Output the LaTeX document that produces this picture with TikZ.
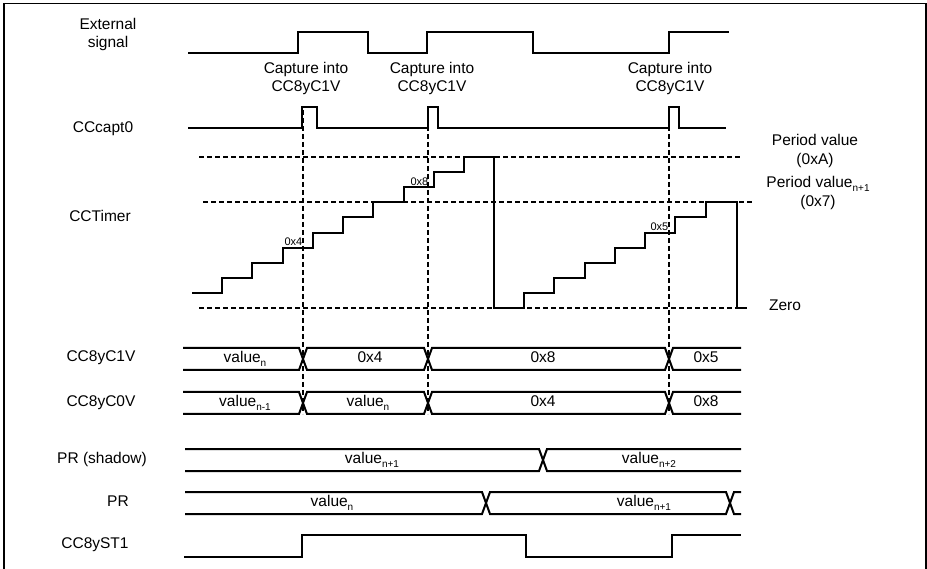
\documentclass[tikz,border=0pt]{standalone}
\usepackage{fontspec}
\setmainfont{Liberation Sans}
\newcommand{\lowsub}[1]{\raisebox{-0.4ex}{\fontsize{10}{10}\selectfont #1}}
\begin{document}
\begin{tikzpicture}[x=1pt,y=-1pt,
  sig/.style={line width=2pt, line join=miter},
  dsh/.style={line width=1.5pt, dash pattern=on 5pt off 3pt},
  lbl/.style={font=\fontsize{15.5}{18.5}\selectfont, align=center, inner sep=0pt, text height=11pt, text depth=3.3pt},
  tinylbl/.style={font=\fontsize{11}{12}\selectfont, inner sep=0.5pt, anchor=south east},
]
\useasboundingbox (0,0) rectangle (927,569);
% frame
\draw[line width=1.5pt] (4,572) -- (4,3.5) -- (926,3.5) -- (926,572);

% left labels
\node[lbl] (ext) at (108,44) {External\\signal};
\node[lbl] (capt) at (103,129) {CCcapt0};
\node[lbl] (timer) at (100,218) {CCTimer};
\node[lbl] (c1v) at (101,358) {CC8yC1V};
\node[lbl] (c0v) at (101,403) {CC8yC0V};
\node[lbl] (prs) at (102,460) {PR (shadow)};
\node[lbl] (pr) at (118,503) {PR};
\node[lbl] (st1) at (95,545) {CC8yST1};

% capture labels
\node[lbl] (capA) at (306,88) {Capture into\\CC8yC1V};
\node[lbl] (capB) at (432,88) {Capture into\\CC8yC1V};
\node[lbl] (capC) at (670,88) {Capture into\\CC8yC1V};

% right labels
\node[lbl] (pv) at (815,160.5) {Period value\\(0xA)};
\node[lbl] (pvn) at (818,202.5) {Period value\lowsub{n+1}\\(0x7)};
\node[lbl] (zero) at (785,307) {Zero};

% external signal
\draw[sig] (188,53) -- (298,53) -- (298,32) -- (368,32) -- (368,53) -- (427,53) -- (427,32) -- (533,32) -- (533,53) -- (669,53) -- (669,32) -- (729,32);

% CCcapt0
\draw[sig] (188,128) -- (302,128) -- (302,107) -- (317,107) -- (317,128) -- (428,128) -- (428,107) -- (438,107) -- (438,128) -- (669,128) -- (669,107) -- (679,107) -- (679,128) -- (726,128);

% horizontal dashed reference lines
\draw[dsh] (199,157) -- (740,157);
\draw[dsh] (203,202) -- (752,202);
\draw[dsh] (199,308) -- (747,308);

% vertical dashed capture lines
\coordinate (vA1) at (303,110); \coordinate (vA2) at (303,414);
\coordinate (vB1) at (428,110); \coordinate (vB2) at (428,414);
\coordinate (vC1) at (669,110); \coordinate (vC2) at (669,414);
\draw[dsh] (vA1) -- (vA2);
\draw[dsh] (vB1) -- (vB2);
\draw[dsh] (vC1) -- (vC2);

% CCTimer staircase
\draw[sig] (192,293) -| (222,278) -| (252,263) -| (283,248) -| (313,233) -| (343,217) -| (373,202) -| (404,187) -| (434,172) -| (464,157) -| (494,308)
  -| (524,293) -| (554,278) -| (585,263) -| (615,248) -| (645,233) -| (675,217) -| (706,202) -| (737,308) -- (747,308);

\node[tinylbl] (t4) at (303,246.5) {0x4};
\node[tinylbl] (t8) at (429,186) {0x8};
\node[tinylbl] (t5) at (669,231.5) {0x5};

% CC8yC1V bus
\draw[sig] (183,348) -- (299,348) -- (307,370) -- (424,370) -- (432,348) -- (665,348) -- (673,370) -- (741,370);
\draw[sig] (183,370) -- (299,370) -- (307,348) -- (424,348) -- (432,370) -- (665,370) -- (673,348) -- (741,348);
\node[lbl] (b1a) at (245,359) {value\lowsub{n}};
\node[lbl] (b1b) at (370,359) {0x4};
\node[lbl] (b1c) at (543,359) {0x8};
\node[lbl] (b1d) at (706,359) {0x5};

% CC8yC0V bus
\draw[sig] (183,392) -- (299,392) -- (307,414) -- (424,414) -- (432,392) -- (665,392) -- (673,414) -- (741,414);
\draw[sig] (183,414) -- (299,414) -- (307,392) -- (424,392) -- (432,414) -- (665,414) -- (673,392) -- (741,392);
\node[lbl] (b0a) at (245,403) {value\lowsub{n-1}};
\node[lbl] (b0b) at (368,403) {value\lowsub{n}};
\node[lbl] (b0c) at (543,403) {0x4};
\node[lbl] (b0d) at (706,403) {0x8};

% PR (shadow) bus
\draw[sig] (185,449) -- (539,449) -- (547,471) -- (741,471);
\draw[sig] (185,471) -- (539,471) -- (547,449) -- (741,449);
\node[lbl] (bsa) at (372,460) {value\lowsub{n+1}};
\node[lbl] (bsb) at (649,460) {value\lowsub{n+2}};

% PR bus
\draw[sig] (185,492) -- (482,492) -- (490,514) -- (726,514) -- (734,492) -- (741,492);
\draw[sig] (185,514) -- (482,514) -- (490,492) -- (726,492) -- (734,514) -- (741,514);
\node[lbl] (bpa) at (332,503) {value\lowsub{n}};
\node[lbl] (bpb) at (644,503) {value\lowsub{n+1}};

% CC8yST1
\draw[sig] (184,557) -- (302,557) -- (302,535) -- (526,535) -- (526,557) -- (672,557) -- (672,535) -- (741,535);
\end{tikzpicture}
\end{document}
